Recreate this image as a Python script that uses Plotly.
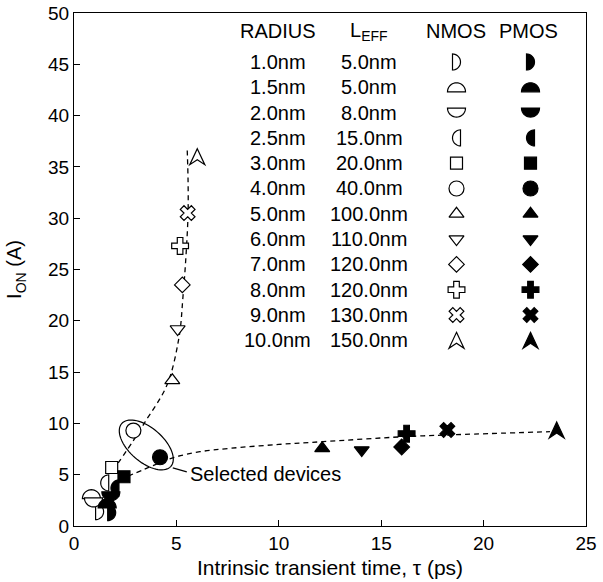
import math
import plotly.graph_objects as go

# ---------------- data ----------------
radius_nm = [1.0, 1.5, 2.0, 2.5, 3.0, 4.0, 5.0, 6.0, 7.0, 8.0, 9.0, 10.0]
leff_nm = [5.0, 5.0, 8.0, 15.0, 20.0, 40.0, 100.0, 110.0, 120.0, 120.0, 130.0, 150.0]

nmos_tau = [1.25, 0.85, 0.95, 1.5, 1.84, 2.9, 4.8, 5.06, 5.29, 5.18, 5.55, 6.02]
nmos_ion = [1.4, 3.1, 2.3, 4.2, 5.7, 9.3, 14.2, 19.2, 23.5, 27.3, 30.5, 36.0]
pmos_tau = [1.84, 1.62, 1.8, 2.0, 2.44, 4.2, 12.12, 14.05, 16.0, 16.24, 18.23, 23.57]
pmos_ion = [1.3, 2.2, 2.9, 3.7, 4.8, 6.7, 7.57, 7.4, 7.7, 9.0, 9.36, 9.36]

nmos_fit_tau = [1.9, 3.08, 3.47, 4.54, 5.13, 5.32, 5.47, 5.57, 5.57, 5.53]
nmos_fit_ion = [5.4, 8.87, 10.14, 13.74, 18.42, 22.32, 26.4, 30.5, 33.6, 36.6]
pmos_fit_tau = [2.64, 3.4, 4.2, 5.0, 6.15, 7.62, 10.0, 12.16, 16.06, 18.2, 23.24]
pmos_fit_ion = [4.87, 5.5, 6.17, 6.75, 7.24, 7.57, 7.95, 8.22, 8.70, 8.87, 9.19]

selected_tau = 3.53
selected_ion = 7.9
selected_label = "Selected devices"

table_headers = ["RADIUS", "L<sub>EFF</sub>", "NMOS", "PMOS"]
x_ticks = [0, 5, 10, 15, 20, 25]
y_ticks = [0, 5, 10, 15, 20, 25, 30, 35, 40, 45, 50]
x_title = "Intrinsic transient time, \u03c4 (ps)"
y_title = "I<sub>ON</sub> (A)"

# ---------------- layout helpers ----------------
W, H = 603, 582
ML, MR, MT, MB = 74, 17, 13, 56
PW, PH = W - ML - MR, H - MT - MB
FONT = "Liberation Sans, Arial, sans-serif"


def fx(px):
    return (px - ML) / PW


def fy(py):
    return (H - MB - py) / PH


SYMBOLS = ["half-right", "half-top", "half-bottom", "half-left", "square", "circle",
           "triangle-up", "triangle-down", "diamond", "cross", "x", "arrowhead"]
NATIVE_SIZE = {"square": 12, "circle": 15, "triangle-up": 13, "triangle-down": 13,
               "diamond": 12, "cross": 14, "x": 13}


def half_disc_path(r, start_deg, cx, cy):
    pts = []
    for j in range(21):
        t = math.radians(start_deg + 180.0 * j / 20)
        pts.append(f"{cx + r * math.cos(t):.2f},{cy + r * math.sin(t):.2f}")
    return "M " + " L ".join(pts) + " Z"


def custom_path(kind):
    # pixel offsets, y pointing up
    if kind == "half-top":
        return half_disc_path(9.0, 0, 0, -4.5)
    if kind == "half-bottom":
        return half_disc_path(9.0, 180, 0, 4.5)
    if kind == "half-right":
        return half_disc_path(8.0, -90, -4.0, 0)
    if kind == "half-left":
        return half_disc_path(8.0, 90, 4.0, 0)
    if kind == "arrowhead":
        return "M 0,8 L 7.5,-8 L 0,-3 L -7.5,-8 Z"
    return ""


fig = go.Figure()

# fitted dashed curves
for ft, fi in ((nmos_fit_tau, nmos_fit_ion), (pmos_fit_tau, pmos_fit_ion)):
    fig.add_trace(go.Scatter(x=ft, y=fi, mode="lines",
                             line=dict(color="black", width=1.3, dash="5px,4px", shape="spline"),
                             hoverinfo="skip", showlegend=False))

shapes = []


def marker_shape(kind, x, y, filled, xref, yref):
    return dict(type="path", path=custom_path(kind), xref=xref, yref=yref,
                xsizemode="pixel", ysizemode="pixel", xanchor=x, yanchor=y,
                fillcolor="black" if filled else "white",
                line=dict(color="black", width=1.2), layer="above")


def add_series(taus, ions, filled, name, xaxis="x", yaxis="y"):
    idx = [i for i, s in enumerate(SYMBOLS) if s in NATIVE_SIZE]
    fig.add_trace(go.Scatter(
        x=[taus[i] for i in idx], y=[ions[i] for i in idx], mode="markers", name=name,
        xaxis=xaxis, yaxis=yaxis,
        marker=dict(symbol=[SYMBOLS[i] for i in idx], size=[NATIVE_SIZE[SYMBOLS[i]] for i in idx],
                    opacity=1, color="black" if filled else "white",
                    line=dict(color="black", width=1.2)),
        showlegend=False, cliponaxis=False))
    xref = "x" if xaxis == "x" else "paper"
    yref = "y" if yaxis == "y" else "paper"
    for i, s in enumerate(SYMBOLS):
        if s not in NATIVE_SIZE:
            shapes.append(marker_shape(s, taus[i], ions[i], filled, xref, yref))


add_series(nmos_tau, nmos_ion, False, "NMOS")
add_series(pmos_tau, pmos_ion, True, "PMOS")

# ---------------- table (legend) ----------------
col_x = [277.5, 369, 456, 528]
sym_x = [456.5, 530.5]
head_y = 31
row_y = [62 + i * 25.3 for i in range(len(radius_nm))]
TFONT = dict(family=FONT, size=20, color="black")

annotations = []
for cx, txt in zip(col_x, table_headers):
    annotations.append(dict(text=txt, xref="paper", yref="paper", x=fx(cx), y=fy(head_y),
                            xanchor="center", yanchor="middle", showarrow=False, font=TFONT))
for i in range(len(radius_nm)):
    for cx, txt in zip(col_x[:2], [f"{radius_nm[i]:.1f}nm", f"{leff_nm[i]:.1f}nm"]):
        annotations.append(dict(text=txt, xref="paper", yref="paper", x=fx(cx), y=fy(row_y[i]),
                                xanchor="center", yanchor="middle", showarrow=False, font=TFONT))

add_series([fx(sym_x[0])] * 12, [fy(v) for v in row_y], False, "NMOS key", "x2", "y2")
add_series([fx(sym_x[1])] * 12, [fy(v) for v in row_y], True, "PMOS key", "x2", "y2")

# ---------------- selected devices ellipse ----------------
a_px, b_px, ang = 32.6, 17.0, math.radians(41)
pts = []
for j in range(73):
    t = 2 * math.pi * j / 72
    dx = a_px * math.cos(t) * math.cos(ang) - b_px * math.sin(t) * math.sin(ang)
    dy = a_px * math.cos(t) * math.sin(ang) + b_px * math.sin(t) * math.cos(ang)
    pts.append(f"{dx:.2f},{-dy:.2f}")
ell_path = "M " + " L ".join(pts) + " Z"
shapes.insert(0, dict(type="path", path=ell_path, xref="x", yref="y", xsizemode="pixel",
                      ysizemode="pixel", xanchor=selected_tau, yanchor=selected_ion,
                      fillcolor="rgba(0,0,0,0)", line=dict(color="black", width=1.2), layer="above"))
shapes.insert(1, dict(type="line", xref="x", yref="y", xsizemode="pixel", ysizemode="pixel",
                      xanchor=selected_tau, yanchor=selected_ion, x0=26.5, y0=-23, x1=40.5, y1=-27,
                      line=dict(color="black", width=1.2), layer="above"))
annotations.append(dict(text=selected_label, xref="x", yref="y", x=selected_tau, y=selected_ion,
                        xanchor="left", yanchor="middle", xshift=41.5, yshift=-29, showarrow=False,
                        font=dict(family=FONT, size=20, color="black")))

axis_common = dict(showline=True, linecolor="black", linewidth=1.2, mirror=True,
                   ticks="inside", ticklen=6, tickwidth=1.2, tickcolor="black",
                   showgrid=False, zeroline=False, automargin=False,
                   tickfont=dict(family=FONT, size=19, color="black"))

fig.update_layout(
    width=W, height=H,
    margin=dict(l=ML, r=MR, t=MT, b=MB),
    paper_bgcolor="white", plot_bgcolor="white",
    showlegend=False,
    xaxis=dict(range=[0, 25], tickvals=x_ticks, **axis_common,
               title=dict(text=x_title, standoff=7, font=dict(family=FONT, size=21, color="black"))),
    yaxis=dict(range=[0, 50], tickvals=y_ticks, **axis_common,
               title=dict(text=y_title, standoff=20, font=dict(family=FONT, size=20, color="black"))),
    xaxis2=dict(overlaying="x", anchor="y2", range=[0, 1], visible=False, fixedrange=True),
    yaxis2=dict(overlaying="y", anchor="x2", range=[0, 1], visible=False, fixedrange=True),
    shapes=shapes,
    annotations=annotations,
)

fig.write_html("out.html")
